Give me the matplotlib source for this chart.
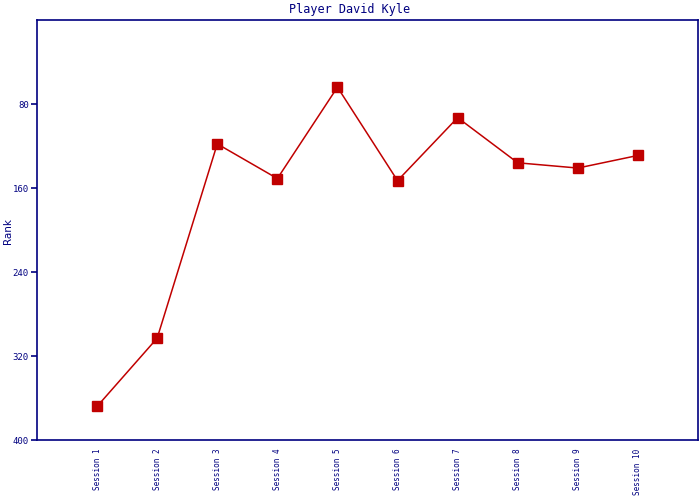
import matplotlib
matplotlib.use('Agg')
import matplotlib.pyplot as plt

sessions = ['Session 1', 'Session 2', 'Session 3', 'Session 4', 'Session 5',
            'Session 6', 'Session 7', 'Session 8', 'Session 9', 'Session 10']
ranks = [368, 303, 118, 151, 64, 153, 93, 136, 141, 129]
yticks = [80, 160, 240, 320, 400]

navy = '#000080'
red = '#c00000'

fig = plt.figure(figsize=(7, 5), dpi=100)
ax = fig.add_axes([37 / 700, 60 / 500, 661 / 700, 420 / 500])

x = list(range(1, len(sessions) + 1))
ax.plot(x, ranks, color=red, linewidth=1.1, marker='s', markersize=7.5,
        markerfacecolor=red, markeredgecolor=red)

ax.set_xlim(0, 11)
ax.set_ylim(400, 0)  # rank 1 on top
ax.set_yticks(yticks)
ax.set_yticklabels([str(v) for v in yticks], family='DejaVu Sans Mono',
                   fontsize=6.5, color=navy)
ax.set_xticks(x)
ax.set_xticklabels(sessions, rotation=90, family='DejaVu Sans Mono',
                   fontsize=5.5, color=navy, va='top')
ax.tick_params(axis='x', length=0, pad=6)
ax.tick_params(axis='y', length=4, width=1.2, color=navy, pad=2)

for s in ax.spines.values():
    s.set_color(navy)
    s.set_linewidth(1.2)

fig.text(8 / 700, 1 - 231 / 500, 'Rank', color=navy, fontsize=7.5, rotation=90,
         ha='center', va='center')
fig.text(0.5, 1 - 9 / 500, 'Player David Kyle', family='DejaVu Sans Mono',
         color=navy, fontsize=8.5, ha='center', va='center')

fig.savefig('out.png', dpi=100)
